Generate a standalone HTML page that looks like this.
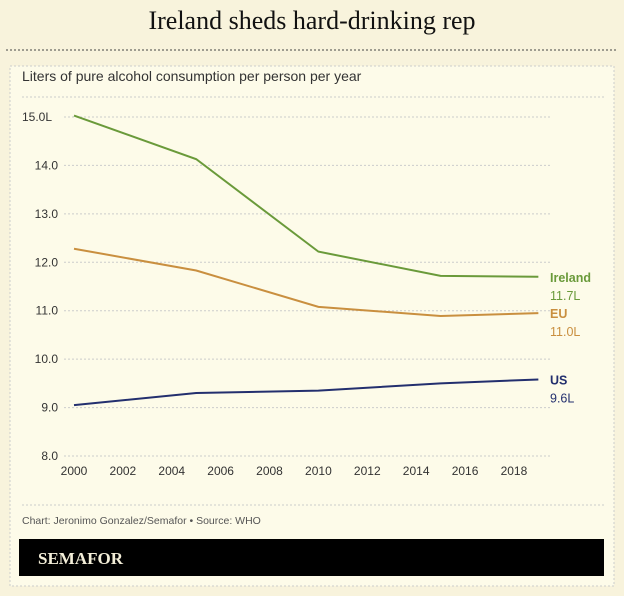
<!DOCTYPE html>
<html><head><meta charset="utf-8"><style>
body{margin:0;width:624px;height:596px;background:#f8f3dc;font-family:"Liberation Sans",sans-serif;overflow:hidden;position:relative}
.t{position:absolute;left:0;width:624px;top:6px;text-align:center;font-family:"Liberation Serif",serif;font-size:26px;color:#111}
</style></head><body>
<div class="t">Ireland sheds hard-drinking rep</div>
<svg width="624" height="596" style="position:absolute;left:0;top:0">
<line x1="6" x2="618" y1="50" y2="50" stroke="#444" stroke-dasharray="2,2" stroke-width="1"/>
<rect x="10" y="66" width="604" height="520" fill="#fdfbe9" stroke="#ccc" stroke-dasharray="2,2"/>
<text x="22" y="81" font-size="14" fill="#333">Liters of pure alcohol consumption per person per year</text>
<line x1="22" x2="605" y1="97" y2="97" stroke="#ccc" stroke-dasharray="2,2"/>
<g id="grid"></g><g id="lines"></g><g id="labels"></g>
<line x1="22" x2="605" y1="505" y2="505" stroke="#ccc" stroke-dasharray="2,2"/>
<text x="22" y="524" font-size="10.5" fill="#555">Chart: Jeronimo Gonzalez/Semafor • Source: WHO</text>
<rect x="19" y="539" width="585" height="37" fill="#000"/>
<text x="38" y="564" font-family="Liberation Serif,serif" font-weight="bold" font-size="17" fill="#f3eed8">SEMAFOR</text>
</svg>
<script>
const years=[2000,2005,2010,2015,2019];
const ireland=[15.03,14.13,12.22,11.72,11.7];
const eu=[12.28,11.83,11.08,10.89,10.95];
const us=[9.05,9.3,9.35,9.5,9.58];
const yTicks=[8,9,10,11,12,13,14,15];
const yLabels=["8.0","9.0","10.0","11.0","12.0","13.0","14.0","15.0L"];
const xTicks=[2000,2002,2004,2006,2008,2010,2012,2014,2016,2018];
const ns="http://www.w3.org/2000/svg";
const X=v=>74+(v-2000)*24.44, Y=v=>456-(v-8)*48.43;
function mk(tag,at,parent,txt){const e=document.createElementNS(ns,tag);for(const k in at)e.setAttribute(k,at[k]);if(txt!=null)e.textContent=txt;document.getElementById(parent).appendChild(e);return e;}
yTicks.forEach((t,i)=>{
 const l=mk('line',{x1:64,x2:550,y1:Y(t),y2:Y(t),stroke:'#ccc','stroke-dasharray':'2,2'},'grid');
 
 
 const tx=mk('text',{x:i==7?22:58,y:Y(t)+4,'font-size':12,fill:'#333','text-anchor':i==7?'start':'end'},'grid',yLabels[i]);
 
 
});
xTicks.forEach(t=>{
 const tx=mk('text',{x:X(t),y:475,'font-size':12,fill:'#333','text-anchor':'middle'},'grid',t);
 
 
});
const series=[["Ireland",ireland,"#6a9a3a","11.7L"],["EU",eu,"#c98f3f","11.0L"],["US",us,"#232f6e","9.6L"]];
series.forEach((s,i)=>{
 const p=mk('polyline',{points:years.map((y,j)=>X(y)+','+Y(s[1][j])).join(' '),fill:'none',stroke:s[2],'stroke-width':2},'lines');
 
 
 const ly=Y(s[1][s[1].length-1]);
 const a=mk('text',{x:550,y:ly+5,'font-size':12.5,'font-weight':'bold',fill:s[2]},'labels',s[0]);
 
 
 const b=mk('text',{x:550,y:ly+23,'font-size':12.5,fill:s[2]},'labels',s[3]);
 
 
});
</script>
</body></html>
